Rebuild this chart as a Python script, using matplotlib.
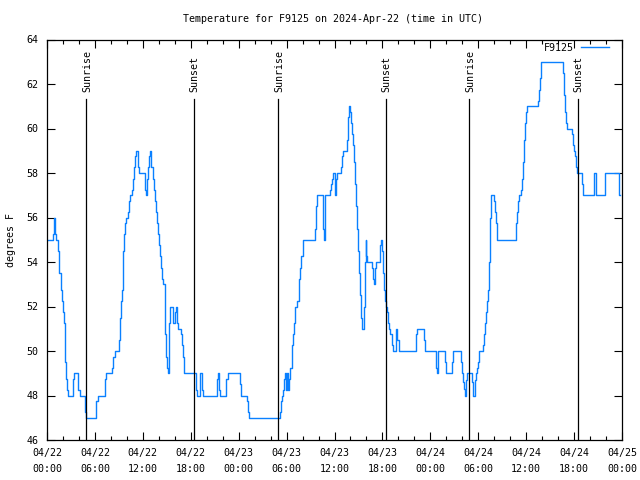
import matplotlib
matplotlib.use("Agg")
import matplotlib.pyplot as plt
from matplotlib.ticker import MultipleLocator

# temperature readings, hours since 2024-04-22 00:00 UTC
hours = [
    0.00, 0.71, 0.84, 0.96, 1.09, 1.42, 1.54, 1.71, 1.84, 1.96, 2.09, 2.21, 2.30, 2.42,
    2.55, 2.67, 3.21, 3.34, 3.92, 4.17, 4.72, 4.80, 4.93, 6.18, 6.43, 7.22, 7.43, 8.18,
    8.27, 8.47, 8.97, 9.10, 9.22, 9.35, 9.47, 9.56, 9.68, 9.81, 9.93, 10.18, 10.31, 10.44,
    10.64, 10.73, 10.89, 11.02, 11.14, 11.44, 11.56, 12.23, 12.31, 12.44, 12.52, 12.69,
    12.81, 12.94, 13.07, 13.23, 13.36, 13.48, 13.61, 13.73, 13.86, 13.98, 14.11, 14.23,
    14.36, 14.49, 14.74, 14.82, 14.94, 15.03, 15.19, 15.32, 15.44, 15.74, 15.99, 16.11,
    16.24, 16.36, 16.74, 16.86, 16.99, 17.11, 17.20,
    18.66, 18.82, 19.16, 19.45, 19.58, 21.24, 21.41, 21.50, 21.66, 22.41, 22.50, 22.71,
    24.17, 24.29, 25.00, 25.13, 25.25, 29.18, 29.30, 29.47, 29.59, 29.72, 29.84, 29.97,
    30.09, 30.22, 30.34, 30.47, 30.64, 30.76, 30.93, 31.10, 31.35, 31.51, 31.68, 31.85,
    32.01, 33.56, 33.68, 33.77, 34.52, 34.64, 34.77, 35.44, 35.52, 35.65, 35.77,
    36.02, 36.11, 36.23, 36.36, 36.86, 36.98, 37.11, 37.61, 37.73, 37.86, 37.94, 38.03,
    38.11, 38.23, 38.36, 38.48, 38.61, 38.74, 38.86, 38.94, 39.07, 39.15, 39.28, 39.40,
    39.70, 39.82, 39.90, 39.99, 40.11, 40.70, 40.82, 40.91, 41.03, 41.16, 41.66, 41.78,
    41.91, 42.03, 42.16, 42.28, 42.41, 42.58, 42.66, 42.83, 42.99, 43.16, 43.33, 43.74,
    43.87, 44.04, 46.21, 46.37, 47.21, 47.37,
    48.75, 48.88, 49.00, 49.80, 49.92, 50.76, 50.88, 51.80, 51.92, 52.09, 52.26, 52.38,
    52.51, 52.63, 53.26, 53.39, 53.55, 53.68, 53.84, 53.93,
    54.05, 54.64, 54.76, 54.89, 55.01, 55.14, 55.26, 55.39, 55.51, 55.64, 55.93, 56.06,
    56.18, 56.31, 56.39, 58.73, 58.85, 58.98, 59.15, 59.35, 59.48, 59.61, 59.73, 59.86,
    59.98, 60.11, 61.44, 61.57, 61.69, 61.82, 61.90, 64.66, 64.78, 64.91, 65.03, 65.16,
    65.70, 65.82, 65.95, 66.07, 66.20, 66.33, 66.99, 67.08, 68.54, 68.75, 69.83, 71.58,
    71.70,
]
temps = [
    55.0, 55.25, 56.0, 55.25, 55.0, 54.5, 53.5, 52.75, 52.25, 51.75, 51.25, 50.5, 49.5, 48.75,
    48.25, 48.0, 48.75, 49.0, 48.25, 48.0, 47.75, 47.25, 47.0, 47.75, 48.0, 48.75, 49.0, 49.25,
    49.75, 50.0, 50.5, 51.5, 52.25, 52.75, 53.5, 54.5, 55.25, 55.75, 56.0, 56.25, 56.75, 57.0,
    57.25, 57.75, 58.25, 58.75, 59.0, 58.25, 58.0, 57.75, 57.25, 57.0, 57.75, 58.25,
    58.75, 59.0, 58.25, 57.75, 57.25, 56.75, 56.25, 55.75, 55.25, 54.75, 54.25, 53.75,
    53.25, 53.0, 52.25, 50.75, 49.75, 49.25, 49.0, 51.25, 52.0, 51.25, 51.75, 52.0,
    51.25, 51.0, 50.75, 50.25, 49.75, 49.25, 49.0,
    48.25, 48.0, 49.0, 48.25, 48.0, 48.75, 49.0, 48.25, 48.0, 48.75, 48.75, 49.0,
    48.5, 48.0, 47.75, 47.25, 47.0, 47.25, 47.75, 48.0, 48.25, 48.75, 49.0, 48.25,
    49.0, 48.25, 48.75, 49.25, 50.25, 50.75, 51.25, 52.0, 52.25, 53.25, 53.75, 54.25,
    55.0, 55.5, 56.5, 57.0, 55.5, 55.0, 57.0, 57.25, 57.5, 57.75, 58.0,
    57.5, 57.0, 57.75, 58.0, 58.25, 58.75, 59.0, 59.5, 60.5, 61.0, 60.75, 60.5,
    60.25, 59.75, 59.25, 58.5, 57.5, 56.5, 55.5, 54.5, 53.5, 52.5, 51.5, 51.0,
    52.0, 54.0, 55.0, 54.25, 54.0, 53.75, 53.25, 53.0, 53.75, 54.0, 54.75, 55.0,
    54.5, 53.5, 52.75, 52.25, 52.0, 51.75, 51.25, 51.0, 50.75, 50.25, 50.0, 51.0,
    50.5, 50.0, 50.75, 51.0, 50.5, 50.0,
    49.25, 49.0, 50.0, 49.5, 49.0, 49.5, 50.0, 49.5, 49.0, 48.6, 48.3, 48.0,
    48.7, 49.0, 48.6, 48.0, 48.7, 49.0, 49.25, 49.5,
    50.0, 50.25, 50.75, 51.25, 51.75, 52.25, 52.75, 54.0, 56.0, 57.0, 56.75, 56.25,
    55.75, 55.25, 55.0, 55.75, 56.25, 56.75, 57.0, 57.25, 57.75, 58.5, 59.5, 60.25,
    60.75, 61.0, 61.25, 61.75, 62.25, 62.75, 63.0, 62.5, 61.5, 60.75, 60.25, 60.0,
    59.75, 59.25, 59.0, 58.75, 58.25, 58.0, 57.5, 57.0, 58.0, 57.0, 58.0, 57.0,
    57.0,
]

sun_hours = [4.92, 18.40, 28.94, 42.40, 52.88, 66.50]
sun_labels = ["Sunrise", "Sunset", "Sunrise", "Sunset", "Sunrise", "Sunset"]

tick_hours = list(range(0, 73, 6))
tick_labels = [
    "04/22\n00:00", "04/22\n06:00", "04/22\n12:00", "04/22\n18:00",
    "04/23\n00:00", "04/23\n06:00", "04/23\n12:00", "04/23\n18:00",
    "04/24\n00:00", "04/24\n06:00", "04/24\n12:00", "04/24\n18:00",
    "04/25\n00:00",
]

plt.rcParams["font.family"] = "DejaVu Sans Mono"
plt.rcParams["font.size"] = 7.2

fig = plt.figure(figsize=(6.4, 4.8), dpi=100)
ax = fig.add_axes([47 / 640, 40 / 480, 575 / 640, 400.5 / 480])

ax.plot(hours, temps, drawstyle="steps-post", color="#0a80ff", lw=1.0, label="F9125")

for h, lab in zip(sun_hours, sun_labels):
    ax.axvline(h, ymin=0, ymax=0.851, color="black", lw=0.9)
    ax.text(h + 0.1, 0.869, lab, transform=ax.get_xaxis_transform(),
            rotation=90, ha="center", va="bottom")

ax.set_xlim(0, 72)
ax.set_ylim(46, 64)
ax.set_xticks(tick_hours)
ax.set_xticklabels(tick_labels)
for t in ax.get_xticklabels():
    t.set_linespacing(1.7)
ax.xaxis.set_minor_locator(MultipleLocator(2))
ax.yaxis.set_major_locator(MultipleLocator(2))

ax.tick_params(which="both", direction="in", top=True, right=True, width=0.8)
ax.tick_params(which="major", length=6)
ax.tick_params(which="minor", length=3)
ax.tick_params(axis="x", pad=6)
ax.tick_params(axis="y", pad=6)
for s in ax.spines.values():
    s.set_linewidth(0.9)

ax.set_ylabel("degrees F")
ax.yaxis.set_label_coords(-0.054, 0.5)

fig.text(0.521, 0.96, "Temperature for F9125 on 2024-Apr-22 (time in UTC)",
         ha="center", va="center")

ax.legend(loc="upper right", bbox_to_anchor=(0.977, 0.992), markerfirst=False,
          frameon=False, handlelength=2.8, borderpad=0, borderaxespad=0,
          handletextpad=0.7)

fig.savefig("out.png", dpi=100)
